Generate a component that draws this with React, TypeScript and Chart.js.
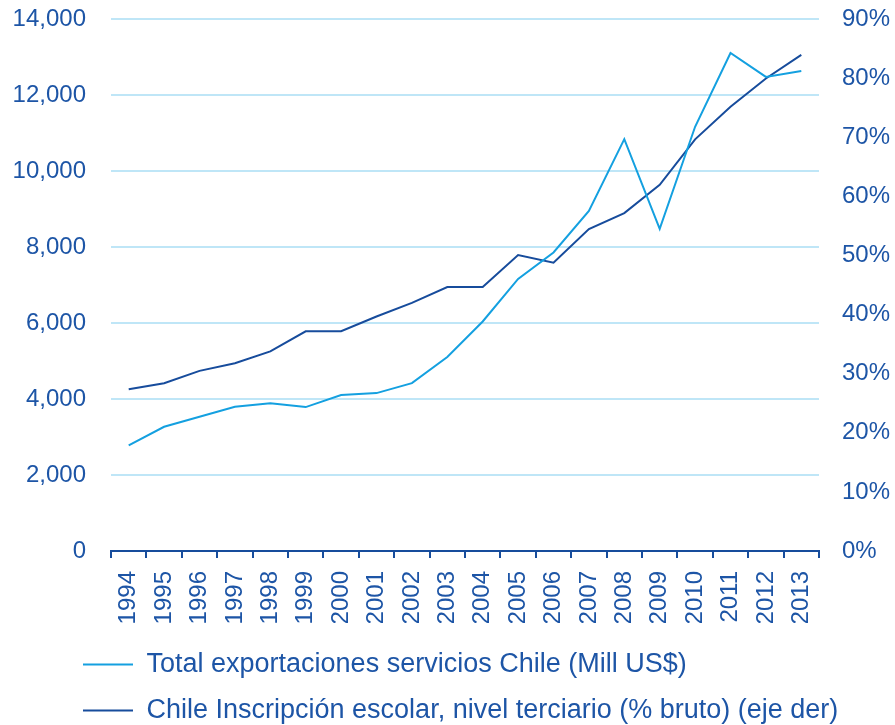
import React, { useEffect, useRef } from "react";
import { Chart, registerables } from "chart.js";

Chart.register(...registerables);

const years = [
  "1994", "1995", "1996", "1997", "1998", "1999", "2000", "2001", "2002", "2003",
  "2004", "2005", "2006", "2007", "2008", "2009", "2010", "2011", "2012", "2013",
];

const exportsServicios = [
  2781, 3271, 3535, 3799, 3894, 3790, 4110, 4158, 4422, 5110,
  6045, 7165, 7863, 8956, 10846, 8486, 11172, 13115, 12485, 12640,
];

const inscripcionTerciaria = [
  27.4, 28.4, 30.5, 31.8, 33.8, 37.2, 37.2, 39.7, 42.0, 44.7,
  44.7, 50.1, 48.8, 54.5, 57.2, 62.0, 69.7, 75.2, 80.0, 84.0,
];

const seriesNames = [
  "Total exportaciones servicios Chile (Mill US$)",
  "Chile Inscripción escolar, nivel terciario (% bruto) (eje der)",
];

const TEXT = "#1d55a6";
const LIGHT = "#14a0e0";
const DARK = "#174c9c";
const GRID = "#bfe6f7";
const FONT = "'Liberation Sans', Arial, sans-serif";

const legendPlacer = {
  id: "legendPlacer",
  afterLayout(chart: any) {
    const lg = chart.legend;
    if (lg) {
      lg.left = 64;
      lg.top += 9;
      lg.bottom += 9;
    }
  },
};

export default function App() {
  const ref = useRef<HTMLCanvasElement | null>(null);

  useEffect(() => {
    if (!ref.current) return;
    const chart = new Chart(ref.current, {
      type: "line",
      data: {
        labels: years,
        datasets: [
          {
            label: seriesNames[0],
            data: exportsServicios,
            borderColor: LIGHT,
            backgroundColor: LIGHT,
            borderWidth: 2,
            pointRadius: 0,
            tension: 0,
            yAxisID: "y",
          },
          {
            label: seriesNames[1],
            data: inscripcionTerciaria,
            borderColor: DARK,
            backgroundColor: DARK,
            borderWidth: 2,
            pointRadius: 0,
            tension: 0,
            yAxisID: "y1",
          },
        ],
      },
      options: {
        responsive: false,
        animation: false,
        devicePixelRatio: 1,
        layout: { padding: { top: 1, left: 0, right: 0, bottom: 0 } },
        plugins: {
          tooltip: { enabled: false },
          legend: {
            position: "bottom",
            align: "start",
            labels: {
              usePointStyle: true,
              pointStyle: "line",
              pointStyleWidth: 50,
              padding: 19,
              color: TEXT,
              font: { family: FONT, size: 27 },
            },
          },
        },
        scales: {
          x: {
            type: "category",
            offset: true,
            grid: {
              offset: true,
              drawOnChartArea: false,
              drawTicks: true,
              tickLength: 7,
              color: DARK,
              lineWidth: 2,
            },
            border: { display: true, color: DARK, width: 2 },
            ticks: {
              autoSkip: false,
              minRotation: 90,
              maxRotation: 90,
              padding: 13,
              color: TEXT,
              font: { family: FONT, size: 24 },
            },
            afterFit: (scale: any) => {
              scale.height = 72;
            },
          },
          y: {
            position: "left",
            min: 0,
            max: 14000,
            ticks: {
              stepSize: 2000,
              padding: 5,
              color: TEXT,
              font: { family: FONT, size: 24 },
              callback: (v: any) => Number(v).toLocaleString("en-US"),
            },
            grid: {
              color: GRID,
              lineWidth: 2,
              drawTicks: true,
              tickLength: 20,
              tickColor: "rgba(0,0,0,0)",
            },
            border: { display: false },
            afterFit: (scale: any) => {
              scale.width = 111;
            },
          },
          y1: {
            position: "right",
            min: 0,
            max: 90,
            ticks: {
              stepSize: 10,
              padding: 5,
              color: TEXT,
              font: { family: FONT, size: 24 },
              callback: (v: any) => `${v}%`,
            },
            grid: {
              drawOnChartArea: false,
              drawTicks: true,
              tickLength: 18,
              tickColor: "rgba(0,0,0,0)",
            },
            border: { display: false },
            afterFit: (scale: any) => {
              scale.width = 76;
            },
          },
        },
      },
      plugins: [legendPlacer],
    });
    return () => chart.destroy();
  }, []);

  return (
    <div
      style={{
        position: "fixed",
        left: 0,
        top: 0,
        width: 895,
        height: 725,
        background: "#ffffff",
      }}
    >
      <canvas ref={ref} width={895} height={725} style={{ display: "block" }} />
    </div>
  );
}
